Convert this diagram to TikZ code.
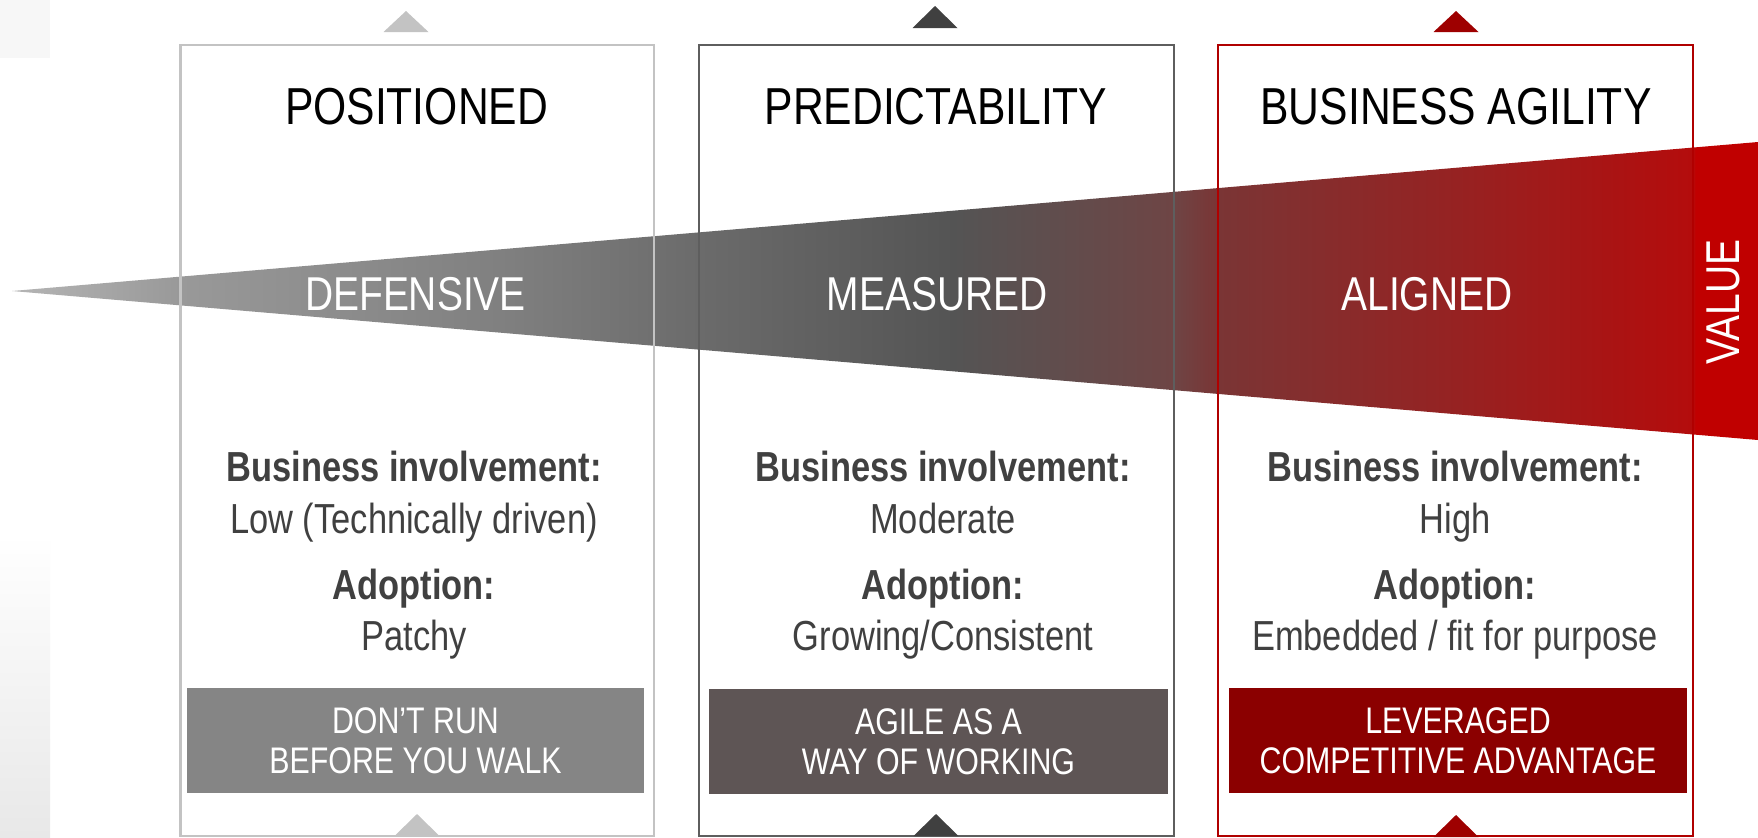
\documentclass[tikz,border=0pt]{standalone}
\usepackage{fontspec}
\setmainfont{Liberation Sans}[FakeStretch=0.82]
\usetikzlibrary{positioning}
\definecolor{lightgrey}{HTML}{C3C3C3}
\definecolor{midgrey}{HTML}{5E5E5E}
\definecolor{deepred}{HTML}{B00000}
\definecolor{textgrey}{HTML}{404040}
\definecolor{bannergrey}{HTML}{858585}
\definecolor{bannerbrown}{HTML}{5E5555}
\definecolor{bannerred}{HTML}{8B0000}
\definecolor{valuered}{HTML}{C00000}
\definecolor{stripgrey}{HTML}{E8E8E8}
\pgfdeclarehorizontalshading{wedgeshade}{100bp}{color(0bp)=(black!29); color(25bp)=(black!29); color(29.81bp)=(black!40); color(39.12bp)=(black!50); color(44.65bp)=(black!58); color(51.95bp)=(black!67); color(58.25bp)=(rgb,255:red,110;green,69;blue,69); color(59.51bp)=(rgb,255:red,122;green,53;blue,53); color(66.38bp)=(rgb,255:red,150;green,34;blue,34); color(73.14bp)=(rgb,255:red,180;green,12;blue,12); color(73.2bp)=(valuered); color(100bp)=(valuered)}

\begin{document}
\begin{tikzpicture}[x=0.5pt,y=-0.5pt]
\tikzset{
  title/.style={font=\fontsize{26}{30}\selectfont, text=black, anchor=base, inner sep=0pt},
  stage/.style={font=\fontsize{23.75}{28}\selectfont, text=white, anchor=base, inner sep=0pt},
  heading/.style={font=\bfseries\fontsize{21}{25}\selectfont, text=textgrey, anchor=base, inner sep=0pt},
  detail/.style={font=\fontsize{21}{25}\selectfont, text=textgrey, anchor=base, inner sep=0pt},
  banner/.style={font=\fontsize{18.5}{20}\selectfont, text=white, align=center, minimum height=52.5pt, inner sep=0pt},
  marker/.style={line width=1pt}
}
\fill[white] (0,0) rectangle (1758,837);
\useasboundingbox (0,0) rectangle (1758,837);
\fill[black!3] (0,0) rectangle (50,58);
\shade[top color=white, bottom color=stripgrey] (0,534) rectangle (50,837);
\shade[shading=wedgeshade] (12,291) -- (1758,142) -- (1758,440) -- cycle;
\draw[lightgrey, line width=1.25pt] (180.5,45) rectangle (654,836);
\draw[midgrey, line width=1pt] (699,45) rectangle (1174,836);
\draw[deepred, line width=1pt] (1218,45) rectangle (1693,836);
\fill[lightgrey] (383.5,32) -- (406,11) -- (428.5,32) -- cycle;
\fill[textgrey] (912.5,28) -- (935,6) -- (957.5,28) -- cycle;
\fill[deepred!90!black] (1433.5,32) -- (1456,11) -- (1478.5,32) -- cycle;
\fill[lightgrey] (394.5,836) -- (417,814) -- (439.5,836) -- cycle;
\fill[textgrey] (913.5,836) -- (936,814) -- (958.5,836) -- cycle;
\fill[deepred!90!black] (1433.5,837) -- (1456,815) -- (1478.5,837) -- cycle;
\node[title] (positioned) at (416.5,124) {POSITIONED};
\node[title] (predictability) at (936,124) {PREDICTABILITY};
\node[title] (agility) at (1456,124) {BUSINESS AGILITY};
\node[stage] (defensive) at (415.5,310) {DEFENSIVE};
\node[stage] (measured) at (937,310) {MEASURED};
\node[stage] (aligned) at (1427,310) {ALIGNED};
\node[stage, rotate=90, anchor=center] (value) at (1723,302) {VALUE};
\node[heading] (inv1) at (414,481) {Business involvement:};
\node[detail] (invlow) at (414,533) {Low (Technically driven)};
\node[heading] (adopt1) at (414,599) {Adoption:};
\node[detail] (adoptpatchy) at (414,650) {Patchy};
\node[heading] (inv2) at (943,481) {Business involvement:};
\node[detail] (invmoderate) at (943,533) {Moderate};
\node[heading] (adopt2) at (943,599) {Adoption:};
\node[detail] (adoptgrowing) at (943,650) {Growing/Consistent};
\node[heading] (inv3) at (1455,481) {Business involvement:};
\node[detail] (invhigh) at (1455,533) {High};
\node[heading] (adopt3) at (1455,599) {Adoption:};
\node[detail] (adoptembedded) at (1455,650) {Embedded / fit for purpose};
\node[banner, fill=bannergrey, minimum width=228.5pt] (walk) at (415.5,740.5) {DON’T RUN\\BEFORE YOU WALK};
\node[banner, fill=bannerbrown, minimum width=229.5pt] (working) at (938.5,741.5) {AGILE AS A\\WAY OF WORKING};
\node[banner, fill=bannerred, minimum width=229pt] (advantage) at (1458,740.5) {LEVERAGED\\COMPETITIVE ADVANTAGE};
\end{tikzpicture}
\end{document}
